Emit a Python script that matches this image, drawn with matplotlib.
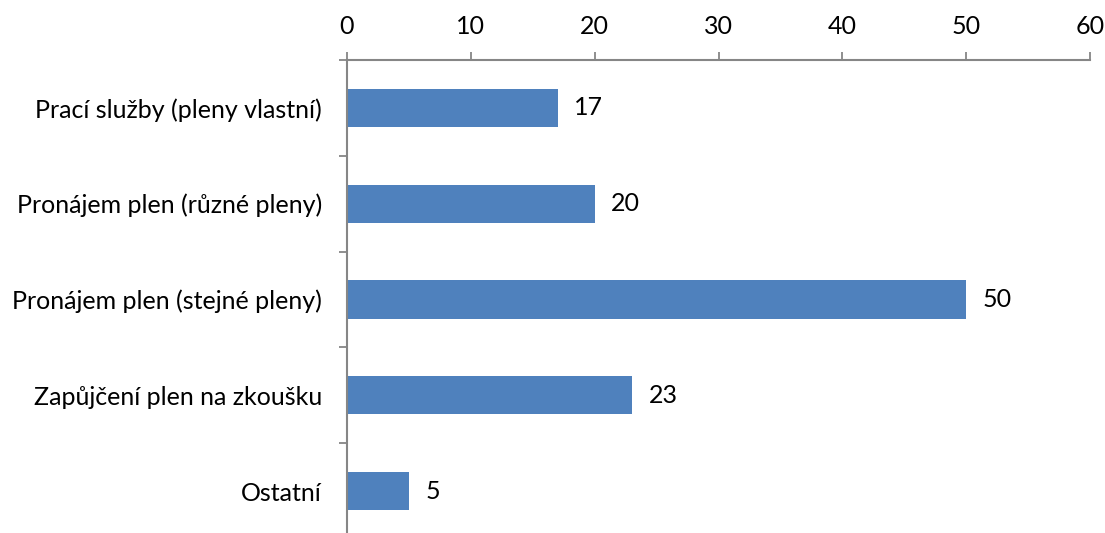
import matplotlib
matplotlib.use("Agg")
import matplotlib.pyplot as plt
from matplotlib.ticker import FixedLocator

categories = [
    "Prací služby (pleny vlastní)",
    "Pronájem plen (různé pleny)",
    "Pronájem plen (stejné pleny)",
    "Zapůjčení plen na zkoušku",
    "Ostatní",
]
values = [17, 20, 50, 23, 5]
x_ticks = [0, 10, 20, 30, 40, 50, 60]

W, H = 1105, 533
fig = plt.figure(figsize=(W / 100, H / 100), dpi=100)
left, right = 347 / W, 1090 / W
top_px, bottom_px = 60, 539
ax = fig.add_axes([left, (H - bottom_px) / H, right - left, (bottom_px - top_px) / H])

plt.rcParams["font.family"] = ["Lato", "DejaVu Sans"]
font = dict(family=["Lato", "DejaVu Sans"], size=18)

axis_color = "#868686"
bar_color = "#4F81BD"

n = len(categories)
pos = list(range(n))
ax.barh(pos, values, height=0.4, color=bar_color, zorder=2)
for p, v in zip(pos, values):
    ax.annotate(str(v), xy=(v, p), xytext=(12, 0), textcoords="offset points",
                va="center", ha="left", **font)

ax.set_ylim(n - 0.5, -0.5)
ax.set_xlim(0, 60)

ax.xaxis.set_ticks_position("top")
ax.xaxis.set_label_position("top")
ax.set_xticks(x_ticks)
ax.set_xticklabels([str(t) for t in x_ticks], **font)
ax.tick_params(axis="x", which="major", direction="out", length=6, width=1.3,
               color=axis_color, pad=10)

ax.set_yticks(pos)
ax.set_yticklabels(categories, **font)
ax.tick_params(axis="y", which="major", length=0, pad=18)
ax.yaxis.set_minor_locator(FixedLocator([i + 0.5 for i in range(-1, n)]))
ax.tick_params(axis="y", which="minor", direction="out", length=6, width=1.3,
               color=axis_color)

for side in ("right", "bottom"):
    ax.spines[side].set_visible(False)
for side in ("left", "top"):
    ax.spines[side].set_color(axis_color)
    ax.spines[side].set_linewidth(1.5)

fig.savefig("out.png", dpi=100)
